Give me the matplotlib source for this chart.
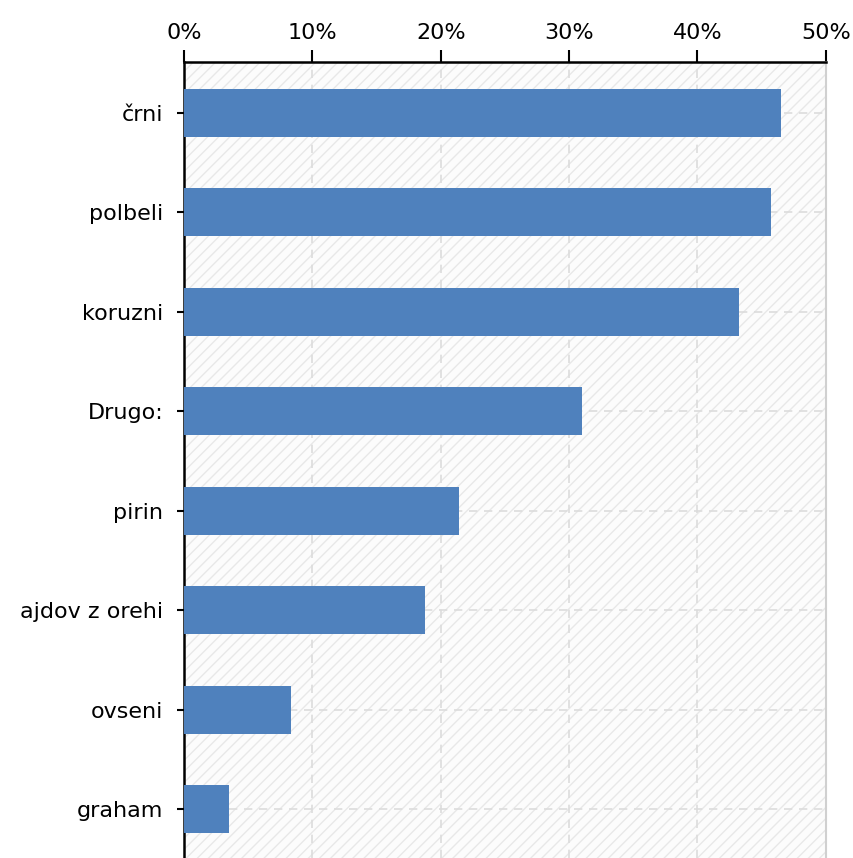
import matplotlib
matplotlib.use("Agg")
import matplotlib.pyplot as plt
from matplotlib.patches import Rectangle
from matplotlib.ticker import FuncFormatter

categories = ["črni", "polbeli", "koruzni", "Drugo:", "pirin", "ajdov z orehi", "ovseni", "graham"]
values = [46.5, 45.7, 43.2, 31.0, 21.4, 18.8, 8.3, 3.5]
xticks = [0, 10, 20, 30, 40, 50]

fig = plt.figure(figsize=(8.54, 8.58), dpi=100)
ax = fig.add_axes([0.2155, 0.0, 0.7515, 0.9277])

# hatched background
bg = Rectangle((0, 0), 1, 1, transform=ax.transAxes, facecolor="#fcfcfc",
               edgecolor="#e8e8e8", hatch="///", linewidth=0, zorder=0)
ax.add_patch(bg)

ypos = list(range(len(categories)))
ax.barh(ypos, values, height=0.48, color="#4f81bd", zorder=3)

ax.set_xlim(0, 50)
ax.set_ylim(len(categories) - 0.51, -0.51)
ax.set_xticks(xticks)
ax.xaxis.set_major_formatter(FuncFormatter(lambda v, p: "%d%%" % v))
ax.xaxis.tick_top()
ax.set_yticks(ypos)
ax.set_yticklabels(categories)

ax.grid(True, color="#dcdcdc", linestyle=(0, (5, 4)), linewidth=1.2, zorder=1)
ax.set_axisbelow(True)

ax.tick_params(axis="x", length=9, width=1.5, labelsize=16, pad=5)
ax.tick_params(axis="y", length=5, width=1.5, labelsize=16, pad=10)

ax.spines["top"].set_linewidth(1.8)
ax.spines["left"].set_linewidth(1.8)
ax.spines["right"].set_color("#d0d0d0")
ax.spines["right"].set_linewidth(1.5)
ax.spines["bottom"].set_visible(False)

fig.savefig("out.png", dpi=100)
